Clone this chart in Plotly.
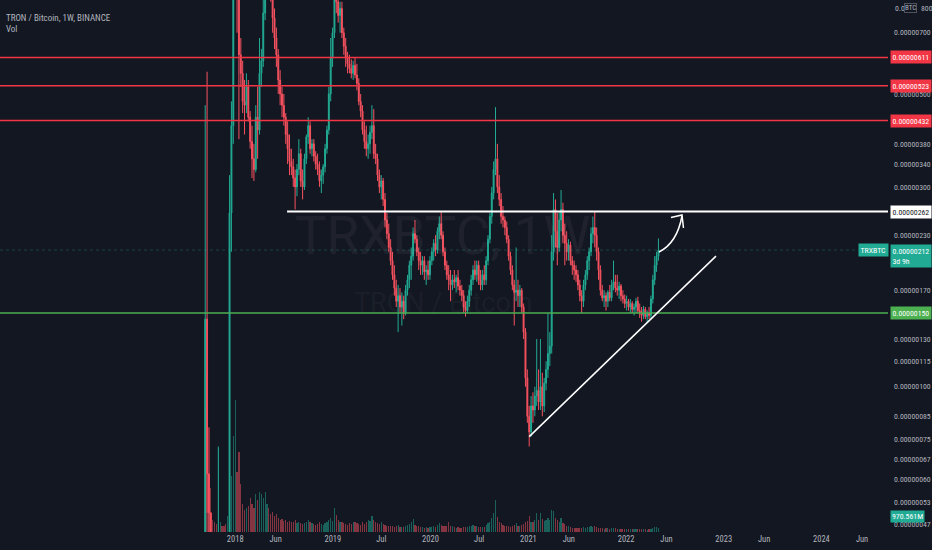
import math
import pandas as pd
import plotly.graph_objects as go

# TRX/BTC weekly candles, prices in satoshi (1e-8 BTC)
first_open = 30
close_sat = [
    145, 62, 50, 38, 33, 30, 27, 30, 33, 28, 27, 25, 40, 260, 420, 980,
    1300, 880, 620, 560, 480, 470, 520, 440, 385, 350, 330, 440, 410, 560, 600, 780,
    960, 1000, 950, 900, 760, 680, 620, 540, 500, 470, 440, 400, 370, 345, 335, 315,
    300, 330, 360, 310, 300, 350, 395, 420, 370, 380, 355, 340, 330, 310, 320, 335,
    370, 410, 500, 610, 700, 860, 830, 770, 800, 700, 650, 610, 590, 575, 560, 585,
    555, 530, 480, 455, 410, 385, 370, 380, 405, 420, 360, 350, 320, 300, 310, 280,
    250, 232, 215, 200, 185, 172, 160, 165, 155, 160, 150, 170, 180, 195, 205, 232,
    225, 210, 200, 195, 200, 188, 190, 185, 200, 210, 220, 212, 235, 245, 230, 210,
    195, 185, 180, 175, 180, 178, 182, 174, 170, 165, 155, 152, 160, 170, 180, 190,
    185, 195, 180, 175, 185, 180, 200, 225, 255, 290, 330, 350, 300, 280, 255, 250,
    240, 225, 205, 190, 175, 168, 170, 165, 170, 155, 135, 105, 85, 78, 90, 88,
    95, 98, 92, 100, 90, 102, 110, 120, 125, 210, 265, 235, 215, 250, 265, 230,
    220, 210, 218, 200, 195, 190, 185, 175, 165, 160, 175, 185, 200, 210, 232, 240,
    230, 210, 190, 170, 163, 165, 160, 168, 163, 175, 178, 172, 170, 174, 165, 162,
    158, 160, 155, 158, 153, 155, 160, 152, 150, 148, 153, 147, 150, 148, 162, 180,
    195, 205, 212,
]
high_sat = [
    470, 565, 80, 48, 44, 40, 34, 72, 38, 36, 33, 31, 45, 320, 480, 1100,
    1800, 1350, 920, 680, 600, 540, 560, 540, 455, 420, 380, 470, 520, 680, 640, 840,
    1050, 1150, 1100, 1000, 920, 800, 720, 640, 570, 520, 500, 450, 430, 400, 370, 350,
    330, 340, 390, 370, 330, 360, 400, 440, 430, 390, 390, 365, 360, 345, 330, 340,
    380, 420, 520, 680, 720, 900, 920, 880, 830, 830, 720, 680, 630, 620, 605, 600,
    610, 590, 545, 500, 470, 430, 420, 400, 420, 470, 460, 380, 360, 330, 320, 315,
    290, 260, 245, 225, 210, 195, 180, 175, 172, 168, 165, 175, 185, 200, 215, 240,
    250, 230, 215, 210, 205, 205, 195, 200, 205, 215, 225, 230, 240, 255, 262, 235,
    215, 200, 195, 190, 185, 190, 185, 190, 180, 175, 170, 160, 165, 175, 185, 195,
    200, 200, 200, 190, 190, 195, 205, 230, 260, 300, 345, 465, 380, 320, 290, 270,
    255, 248, 230, 210, 195, 180, 215, 180, 175, 172, 158, 138, 110, 90, 95, 97,
    100, 130, 110, 130, 108, 105, 115, 150, 135, 230, 290, 280, 260, 262, 295, 275,
    245, 235, 225, 222, 205, 200, 195, 190, 180, 170, 180, 190, 205, 215, 240, 255,
    262, 240, 215, 195, 175, 170, 168, 170, 175, 180, 200, 185, 185, 178, 176, 170,
    166, 165, 162, 162, 160, 158, 163, 164, 158, 155, 156, 155, 152, 155, 165, 185,
    205, 210, 226,
]
low_sat = [
    28, 50, 42, 34, 30, 28, 25, 24, 27, 26, 25, 22, 21, 38, 210, 380,
    900, 700, 390, 520, 450, 400, 450, 430, 370, 315, 310, 325, 350, 400, 520, 580,
    750, 850, 880, 830, 700, 640, 580, 500, 470, 440, 420, 380, 340, 320, 320, 300,
    265, 285, 320, 300, 280, 295, 340, 380, 360, 355, 345, 330, 320, 300, 290, 305,
    325, 360, 400, 480, 580, 680, 780, 740, 700, 680, 620, 580, 560, 560, 545, 540,
    545, 510, 470, 440, 400, 370, 355, 350, 360, 390, 350, 340, 310, 290, 280, 270,
    240, 225, 210, 195, 180, 165, 155, 135, 150, 140, 145, 148, 165, 172, 180, 200,
    220, 205, 190, 185, 185, 180, 175, 180, 180, 195, 200, 205, 208, 225, 225, 205,
    190, 180, 170, 160, 170, 172, 168, 170, 165, 160, 150, 147, 150, 155, 165, 175,
    180, 178, 175, 170, 170, 175, 175, 195, 220, 245, 280, 320, 290, 270, 245, 240,
    230, 220, 200, 185, 170, 140, 160, 155, 155, 150, 130, 100, 82, 72, 76, 82,
    85, 90, 88, 88, 85, 87, 98, 105, 112, 120, 200, 215, 195, 210, 235, 220,
    195, 200, 200, 195, 185, 180, 178, 170, 160, 150, 155, 170, 180, 190, 205, 220,
    215, 200, 180, 165, 160, 155, 152, 155, 160, 160, 170, 168, 165, 162, 160, 158,
    154, 152, 152, 150, 150, 148, 150, 150, 146, 143, 145, 145, 142, 145, 146, 158,
    175, 188, 200,
]
# weekly volume, millions of TRX
vol_m = [
    31000, 40000, 14000, 11000, 3000, 2500, 2000, 21000, 2500, 1500, 1500, 2000, 4000, 9000, 14000, 24000,
    33000, 15000, 20000, 12000, 7000, 5500, 6000, 6500, 8500, 7000, 6000, 9500, 8000, 10000, 9500, 8500,
    10000, 7000, 6000, 4500, 5000, 4000, 4500, 3500, 3000, 3200, 2800, 3000, 2500, 2800, 2400, 2600,
    3000, 2200, 2600, 2200, 2000, 2300, 2600, 3000, 2500, 2200, 2000, 1800, 2000, 2400, 2100, 1800,
    2200, 2400, 3000, 3400, 2800, 6000, 4200, 3000, 2600, 2400, 2200, 2000, 1800, 2200, 2000, 2600,
    2400, 2200, 2000, 1800, 2400, 2000, 2600, 3000, 2800, 4000, 3000, 2600, 2200, 2000, 2400, 2000,
    1800, 1600, 1400, 1600, 1500, 1300, 1400, 1800, 1300, 1200, 1300, 1600, 1800, 2000, 2400, 3200,
    1800, 1600, 1400, 1200, 1300, 1100, 1200, 1000, 1300, 1200, 1600, 1300, 1800, 2200, 1700, 1500,
    1400, 1600, 2400, 1600, 1500, 1200, 1100, 1200, 1000, 1100, 1200, 1300, 1200, 1400, 1600, 1800,
    1400, 1600, 1300, 1200, 1300, 1200, 1800, 2200, 2600, 3500, 4800, 8000, 3800, 2600, 2200, 1800,
    1500, 1400, 1500, 1300, 1400, 1800, 2200, 1600, 1500, 1700, 2000, 2600, 2800, 4000, 2600, 2400,
    3000, 4800, 3000, 4800, 3200, 2800, 3000, 3400, 3000, 5400, 5200, 3600, 3000, 2400, 3600, 2200,
    2000, 1600, 1400, 1200, 1100, 1000, 1000, 900, 1000, 1100, 1200, 1100, 1300, 1200, 1400, 1300,
    1500, 1200, 1000, 1000, 900, 800, 900, 900, 800, 900, 1100, 900, 800, 800, 700, 700,
    700, 700, 700, 700, 700, 700, 700, 700, 700, 800, 700, 700, 600, 700, 800, 1100,
    1300, 1200, 970.561,
]

# drawn levels / lines (satoshi)
red_levels = [611, 523, 432]
green_level = 150
white_level = 262
white_start = "2018-07-14"
trend_dates = ["2021-01-04", "2022-12-03"]
trend_vals = [76, 205]
last_price = 212
top_tick = 800

tick_sat = [700, 500, 380, 340, 300, 230, 170, 130, 115, 100, 85, 75, 67, 60, 53, 47]
xtick_dates = ["2018-01-01", "2018-06-01", "2019-01-01", "2019-07-01", "2020-01-01", "2020-07-01",
               "2021-01-01", "2021-06-01", "2022-01-01", "2022-06-01", "2023-01-01", "2023-06-01",
               "2024-01-01", "2024-06-01"]
xtick_text = ["2018", "Jun", "2019", "Jul", "2020", "Jul", "2021", "Jun", "2022", "Jun", "2023", "Jun",
              "2024", "Jun"]

n = len(close_sat)
dates = pd.date_range("2017-09-11", periods=n, freq="7D")
open_sat = [first_open] + close_sat[:-1]
S = 1e-8
o = [v * S for v in open_sat]
c = [v * S for v in close_sat]
h = [v * S for v in high_sat[:n]]
l = [v * S for v in low_sat[:n]]

UP = "#22ab94"
DN = "#f7525f"
BG = "#131722"
TXT = "#b2b5be"
FONT = "Roboto"
NARROW = "Liberation Sans Narrow, Roboto Condensed, Roboto"
FS = 7.8

vol_colors = ["rgba(34,171,148,0.5)" if c[i] >= o[i] else "rgba(247,82,95,0.5)" for i in range(n)]

fig = go.Figure()
fig.add_trace(go.Bar(x=dates, y=vol_m[:n], marker_color=vol_colors, marker_line_width=0,
                     width=4.5 * 24 * 3600 * 1000, yaxis="y", hoverinfo="skip"))
fig.add_trace(go.Candlestick(
    x=dates, open=o, high=h, low=l, close=c, yaxis="y2",
    increasing=dict(line=dict(color=UP, width=1), fillcolor=UP),
    decreasing=dict(line=dict(color=DN, width=1), fillcolor=DN),
    whiskerwidth=0,
))

x0, x1 = "2015-08-06", "2024-09-06"
shapes = []
for lv in red_levels:
    shapes.append(dict(type="line", xref="paper", x0=0, x1=1, yref="y2", y0=lv * S, y1=lv * S,
                       line=dict(color="#f23645", width=1.5)))
shapes.append(dict(type="line", xref="paper", x0=0, x1=1, yref="y2", y0=green_level * S, y1=green_level * S,
                   line=dict(color="#4caf50", width=1.5)))
shapes.append(dict(type="line", xref="paper", x0=0, x1=1, yref="y2", y0=last_price * S, y1=last_price * S,
                   line=dict(color="rgba(34,171,148,0.3)", width=1, dash="dot")))
shapes.append(dict(type="line", xref="x", x0=white_start, x1=x1, yref="y2", y0=white_level * S,
                   y1=white_level * S, line=dict(color="#ffffff", width=2)))
shapes.append(dict(type="line", xref="x", x0=trend_dates[0], x1=trend_dates[1], yref="y2",
                   y0=trend_vals[0] * S, y1=trend_vals[1] * S, line=dict(color="#ffffff", width=1.5)))
# curved arrow (paper coords)
W, H = 888.0, 532.0
def P(px, py):
    return "%.4f,%.4f" % (px / W, 1 - py / H)
shapes.append(dict(type="path", xref="paper", yref="paper",
                   path="M " + P(659, 252) + " Q " + P(677, 243) + " " + P(682, 216),
                   line=dict(color="#ffffff", width=1.5)))
shapes.append(dict(type="path", xref="paper", yref="paper",
                   path="M " + P(671, 217.5) + " L " + P(682, 215) + " L " + P(683.5, 228),
                   line=dict(color="#ffffff", width=1.5)))

ann = []
def tag(val, text, bg, fg="#ffffff"):
    ann.append(dict(xref="paper", x=1, xanchor="left", xshift=2, yref="y2", y=math.log10(val * S),
                    text=text, showarrow=False, bgcolor=bg, font=dict(family=NARROW, size=FS, color=fg),
                    borderpad=1.5))
for lv in red_levels:
    tag(lv, "0.%08d" % lv, "#f23645")
tag(white_level, "0.%08d" % white_level, "#ffffff", "#131722")
tag(green_level, "0.%08d" % green_level, "#4caf50")
ann.append(dict(xref="paper", x=1, xanchor="left", xshift=2, yref="y2", y=math.log10(last_price * S),
                yanchor="top", yshift=6.5, align="left",
                text="0.%08d<br>3d 9h" % last_price, showarrow=False, bgcolor=UP,
                font=dict(family=NARROW, size=FS, color="#ffffff"), borderpad=1.5))
ann.append(dict(xref="paper", x=1, xanchor="right", xshift=1, yref="y2", y=math.log10(last_price * S),
                text="TRXBTC", showarrow=False, bgcolor=UP,
                font=dict(family=NARROW, size=FS, color="#ffffff"), borderpad=1.5))
ann.append(dict(xref="paper", x=1, xanchor="left", xshift=2, yref="paper", y=1 - 523 / H,
                text="970.561M", showarrow=False, bgcolor=UP,
                font=dict(family=NARROW, size=FS, color="#ffffff"), borderpad=1))
# top price label with the currency badge over its middle
ann.append(dict(xref="paper", x=1, xanchor="left", xshift=5, yref="y2", y=math.log10(top_tick * S),
                text="0.0", showarrow=False, font=dict(family=NARROW, size=FS, color=TXT)))
ann.append(dict(xref="paper", x=1, xanchor="left", xshift=16, yref="y2", y=math.log10(top_tick * S),
                text="BTC", showarrow=False, bgcolor=BG, bordercolor="#50535e", borderwidth=1,
                font=dict(family=NARROW, size=7, color=TXT), borderpad=0))
ann.append(dict(xref="paper", x=1, xanchor="left", xshift=31, yref="y2", y=math.log10(top_tick * S),
                text="%03d" % top_tick, showarrow=False, font=dict(family=NARROW, size=FS, color=TXT)))
# watermark
ann.append(dict(xref="paper", x=443 / W, yref="paper", y=1 - 236 / H, text="TRXBTC, 1W", showarrow=False,
                font=dict(family=FONT, size=53, color="rgba(255,255,255,0.05)")))
ann.append(dict(xref="paper", x=443 / W, yref="paper", y=1 - 303 / H, text="TRON / Bitcoin", showarrow=False,
                font=dict(family=FONT, size=27, color="rgba(255,255,255,0.05)")))
# legend text
ann.append(dict(xref="paper", x=4 / W, xanchor="left", yref="paper", y=1 - 11 / H,
                text="TRON / Bitcoin, 1W, BINANCE", showarrow=False, font=dict(family=NARROW, size=9, color=TXT)))
ann.append(dict(xref="paper", x=4 / W, xanchor="left", yref="paper", y=1 - 22 / H,
                text="Vol", showarrow=False, font=dict(family=NARROW, size=9, color=TXT)))

fig.update_layout(
    width=932, height=550,
    margin=dict(l=0, r=44, t=0, b=18),
    paper_bgcolor=BG, plot_bgcolor=BG,
    showlegend=False,
    shapes=shapes, annotations=ann,
    font=dict(family=NARROW, color=TXT, size=FS),
    xaxis=dict(type="date", range=[x0, x1], rangeslider=dict(visible=False), showgrid=False,
               zeroline=False, tickvals=xtick_dates, ticktext=xtick_text, ticks="",
               tickfont=dict(family=NARROW, size=8.5, color=TXT), showline=False),
    yaxis=dict(range=[0, 133000], visible=False, showgrid=False, fixedrange=True),
    yaxis2=dict(type="log", overlaying="y", side="right",
                range=[math.log10(45.0 * S), math.log10(838 * S)],
                tickvals=[v * S for v in tick_sat], ticktext=["0.%08d" % v for v in tick_sat],
                showgrid=False, zeroline=False, ticks="", tickfont=dict(family=NARROW, size=FS, color=TXT),
                ticklabelstandoff=5),
    bargap=0,
)

fig.write_html("out.html", config={"displayModeBar": False},
               post_script="document.body.style.margin='0';")
